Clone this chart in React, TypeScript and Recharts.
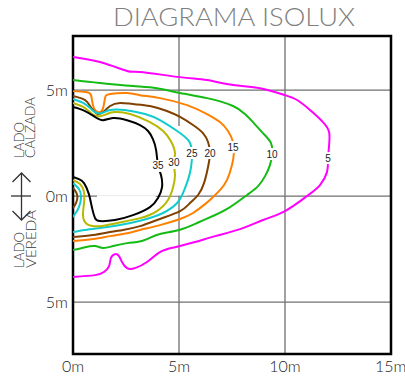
import {
  CartesianGrid,
  Line,
  LineChart,
  ReferenceArea,
  ReferenceDot,
  XAxis,
  YAxis,
} from "recharts";

// contour points, [x metres, y metres]
const lux5: [number, number][] = [
  [0, 6.56], [1.27, 6.32], [2.55, 5.9], [3.16, 5.85], [5.05, 5.61], [6.32, 5.47],
  [7.55, 5.24], [8.82, 5.09], [10.0, 4.76], [10.57, 4.53], [11.18, 4.06], [11.79, 3.49],
  [12.08, 3.02], [12.08, 2.41], [12.03, 1.7], [11.98, 1.13], [11.65, 0.52], [11.04, 0],
  [10.0, -0.71], [8.96, -1.13], [7.88, -1.56], [6.7, -1.89], [5.75, -2.17], [4.81, -2.41],
  [4.1, -2.64], [3.49, -3.11], [2.92, -3.4], [2.55, -3.4], [2.31, -3.11], [2.17, -2.83],
  [1.98, -2.74], [1.79, -2.92], [1.7, -3.3], [1.46, -3.58], [1.04, -3.73], [0, -3.82],
];

const lux10: [number, number][] = [
  [0, 5.47], [1.27, 5.33], [2.83, 5.19], [3.96, 5.09], [5.05, 4.86], [6.32, 4.62],
  [7.55, 4.25], [8.11, 3.87], [8.49, 3.49], [8.96, 2.97], [9.34, 2.5], [9.39, 1.98],
  [9.29, 1.46], [9.06, 0.94], [8.73, 0.47], [8.21, 0.05], [7.41, -0.52], [6.6, -0.94],
  [5.85, -1.27], [5.0, -1.6], [4.1, -1.79], [3.49, -2.03], [3.02, -2.17], [2.55, -2.22],
  [1.89, -2.36], [1.42, -2.45], [1.04, -2.36], [0.57, -2.41], [0, -2.55],
];

const lux15: [number, number][] = [
  [0, 4.95], [0.61, 4.91], [0.85, 4.76], [0.94, 4.29], [1.08, 4.01], [1.27, 3.96],
  [1.42, 4.15], [1.51, 4.62], [1.75, 4.81], [2.55, 4.86], [3.16, 4.76], [4.1, 4.62],
  [5.38, 4.29], [6.32, 3.87], [6.93, 3.49], [7.31, 3.07], [7.55, 2.55], [7.59, 2.03],
  [7.5, 1.46], [7.26, 0.75], [6.93, 0.28], [6.56, -0.09], [6.23, -0.38], [5.66, -0.8],
  [5.05, -1.08], [4.1, -1.37], [3.16, -1.6], [2.55, -1.75], [1.75, -1.89], [0.94, -2.03],
  [0, -2.12],
];

const lux20: [number, number][] = [
  [0, 4.72], [0.57, 4.53], [0.8, 4.25], [1.04, 3.96], [1.18, 3.87], [1.42, 3.96],
  [1.75, 4.25], [2.22, 4.39], [2.83, 4.34], [3.63, 4.25], [4.43, 4.01], [5.05, 3.73],
  [5.66, 3.35], [6.13, 2.97], [6.37, 2.55], [6.46, 2.03], [6.37, 1.37], [6.18, 0.61],
  [5.9, 0.05], [5.52, -0.33], [5.05, -0.71], [4.1, -1.08], [3.16, -1.42], [2.36, -1.6],
  [1.75, -1.7], [0.94, -1.84], [0, -1.93],
];
const lux20b: [number, number][] = [
  [0, 0.38], [0.14, 0.19], [0.21, -0.05], [0.14, -0.33], [0, -0.57],
];

const lux25: [number, number][] = [
  [0, 4.58], [0.57, 4.34], [0.9, 4.06], [1.13, 3.92], [1.37, 3.92], [1.75, 4.06],
  [2.45, 4.06], [3.4, 3.87], [4.1, 3.58], [4.91, 3.07], [5.47, 2.59], [5.61, 2.03],
  [5.57, 1.37], [5.42, 0.75], [5.19, 0.14], [4.91, -0.33], [4.25, -0.8], [3.3, -1.13],
  [2.22, -1.37], [1.27, -1.51], [0.57, -1.6], [0, -1.7],
];
const lux25b: [number, number][] = [
  [0, 0.61], [0.28, 0.33], [0.38, -0.05], [0.28, -0.52], [0.09, -0.85], [0, -1.0],
];

const lux30: [number, number][] = [
  [0, 4.39], [0.57, 4.15], [0.9, 3.87], [1.27, 3.77], [1.6, 3.87], [1.98, 3.96],
  [2.69, 3.87], [3.63, 3.49], [4.25, 3.07], [4.62, 2.59], [4.81, 2.03], [4.76, 1.56],
  [4.81, 0.99], [4.72, 0.42], [4.48, -0.19], [3.96, -0.71], [3.16, -1.04], [2.08, -1.27],
  [1.27, -1.42], [0.66, -1.32], [0.47, -0.9], [0.52, -0.33], [0.52, 0.19], [0.33, 0.57],
  [0, 0.75],
];

const lux35: [number, number][] = [
  [0, 4.2], [0.57, 4.01], [1.04, 3.73], [1.42, 3.58], [1.89, 3.68], [2.55, 3.58],
  [3.16, 3.35], [3.54, 3.07], [3.77, 2.69], [3.92, 2.17], [4.01, 1.46], [4.15, 0.99],
  [4.2, 0.42], [4.01, -0.09], [3.63, -0.52], [2.83, -0.9], [1.98, -1.13], [1.27, -1.18],
  [1.04, -1.04], [0.9, -0.57], [0.75, 0.09], [0.52, 0.61], [0.28, 0.8], [0, 0.9],
];

// label value, x, y
const tags: [string, number, number][] = [
  ["35", 4.01, 1.42],
  ["30", 4.76, 1.56],
  ["25", 5.61, 2.03],
  ["20", 6.46, 2.03],
  ["15", 7.55, 2.31],
  ["10", 9.39, 1.98],
  ["5", 12.03, 1.79],
];

const xTicks = [0, 5, 10, 15];
const yTicks = [-5, 0, 5];

const series = [
  { key: "5", pts: lux5, color: "#ff00ff" },
  { key: "10", pts: lux10, color: "#14bb14" },
  { key: "15", pts: lux15, color: "#ff8000" },
  { key: "20", pts: lux20, color: "#804000" },
  { key: "20b", pts: lux20b, color: "#804000" },
  { key: "25", pts: lux25, color: "#11cccc" },
  { key: "25b", pts: lux25b, color: "#11cccc" },
  { key: "30", pts: lux30, color: "#b8b800" },
  { key: "35", pts: lux35, color: "#000000" },
];

const toRows = (pts: [number, number][]) => pts.map(([x, y]) => ({ x, y }));

const Tag = (props: any) => {
  const { cx, cy, text } = props;
  const w = text.length > 1 ? 13 : 8;
  return (
    <g>
      <rect x={cx - w / 2} y={cy - 6} width={w} height={12} fill="#fff" />
      <text
        x={cx}
        y={cy}
        dy="0.35em"
        textAnchor="middle"
        fontSize={10}
        fontFamily="Liberation Sans, Arial"
        fill="#222"
      >
        {text}
      </text>
    </g>
  );
};

const tickFont = { fontFamily: "Lato", fontWeight: 300, fontSize: 16, fill: "#222" };
const sideText = { fontFamily: "Lato", fontWeight: 300, fontSize: 14, fill: "#333" };

export default function App() {
  return (
    <div style={{ position: "absolute", left: 0, top: 0, width: 405, height: 379, background: "#fff" }}>
      <LineChart width={405} height={379} margin={{ top: 36, right: 14, bottom: 0, left: 43 }}>
        <CartesianGrid stroke="#707070" strokeWidth={1.3} />
        <XAxis
          type="number"
          dataKey="x"
          domain={[0, 15]}
          ticks={xTicks}
          allowDataOverflow
          height={25}
          axisLine={false}
          tickLine={false}
          tickSize={0}
          tickMargin={7}
          tickFormatter={(v) => `${v}m`}
          tick={tickFont}
        />
        <YAxis
          type="number"
          dataKey="y"
          domain={[-7.45, 7.55]}
          ticks={yTicks}
          allowDataOverflow
          width={30}
          axisLine={false}
          tickLine={false}
          tickSize={0}
          tickMargin={5}
          tickFormatter={(v) => `${Math.abs(v)}m`}
          tick={tickFont}
        />
        <ReferenceArea x1={1.13} x2={5.4} y1={0.03} y2={3.3} fill="#fff" fillOpacity={1} stroke="none" />
        <ReferenceArea x1={1.13} x2={3.9} y1={-0.3} y2={0.03} fill="#fff" fillOpacity={1} stroke="none" />
        <ReferenceArea
          x1={0}
          x2={15}
          y1={-7.45}
          y2={7.55}
          fill="none"
          stroke="#000"
          strokeWidth={2.5}
          ifOverflow="visible"
        />
        {series.map((s) => (
          <Line
            key={s.key}
            data={toRows(s.pts)}
            dataKey="y"
            type="natural"
            stroke={s.color}
            strokeWidth={2}
            dot={false}
            activeDot={false}
            isAnimationActive={false}
          />
        ))}
        {tags.map(([t, x, y]) => (
          <ReferenceDot key={t} x={x} y={y} r={0} shape={(p: any) => <Tag {...p} text={t} />} />
        ))}
      </LineChart>
      <svg width={405} height={379} style={{ position: "absolute", left: 0, top: 0 }}>
        <text
          x={234}
          y={26}
          textAnchor="middle"
          fontFamily="Lato"
          fontWeight={300}
          fontSize={26}
          fill="#808080"
          textLength={242}
          lengthAdjust="spacingAndGlyphs"
        >
          DIAGRAMA ISOLUX
        </text>
        <g transform="rotate(-90)">
          <text x={-158} y={23.5} textLength={36} lengthAdjust="spacingAndGlyphs" {...sideText}>LADO</text>
          <text x={-158} y={35} textLength={61} lengthAdjust="spacingAndGlyphs" {...sideText}>CALZADA</text>
          <text x={-268} y={23.5} textLength={36} lengthAdjust="spacingAndGlyphs" {...sideText}>LADO</text>
          <text x={-268} y={35.5} textLength={58} lengthAdjust="spacingAndGlyphs" {...sideText}>VEREDA</text>
        </g>
        <g stroke="#333" strokeWidth={1.3} fill="none">
          <line x1={21.5} y1={173} x2={21.5} y2={220} />
          <polyline points="12.5,182 21.5,173 30.5,182" />
          <polyline points="12.5,211 21.5,220 30.5,211" />
          <line x1={11} y1={196} x2={31} y2={196} />
        </g>
      </svg>
    </div>
  );
}
